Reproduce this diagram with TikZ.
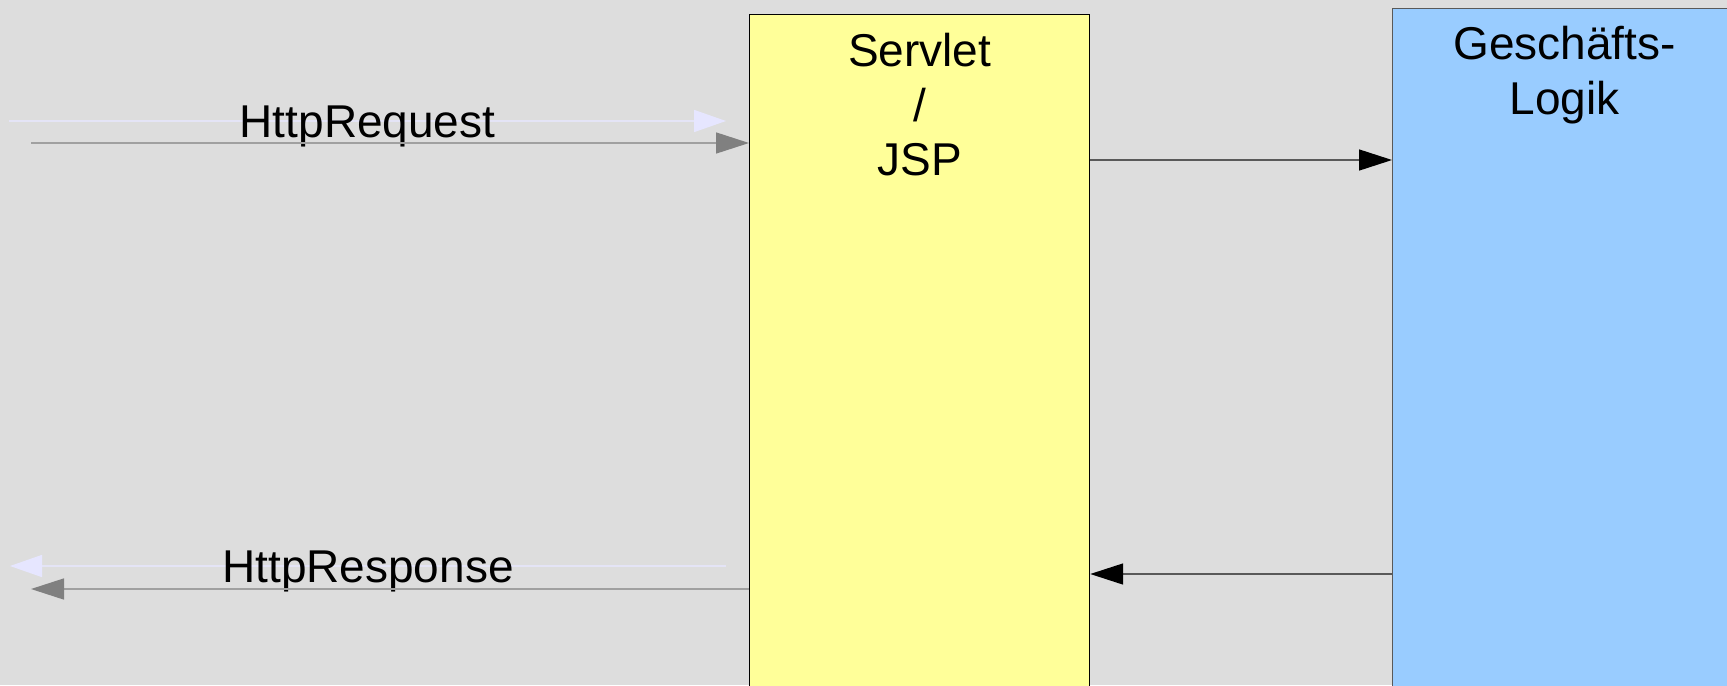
\documentclass[tikz,border=0pt]{standalone}
\usepackage{fontspec}
\setmainfont{Liberation Sans}
\usetikzlibrary{arrows.meta,positioning}
\definecolor{bggray}{HTML}{DDDDDD}
\definecolor{servletyellow}{HTML}{FFFF99}
\definecolor{logikblue}{HTML}{99CCFF}
\definecolor{ghostblue}{HTML}{E6E6FF}
\definecolor{ghostline}{HTML}{E4E4F6}
\definecolor{flowgray}{HTML}{808080}
\definecolor{flowline}{HTML}{A0A0A0}

\begin{document}
\begin{tikzpicture}[x=0.5pt,y=-0.5pt,
  box/.style={rectangle, line width=0.6pt, inner sep=0pt, anchor=north west,
    minimum height=345pt},
  boxtext/.style={font=\fontsize{23}{27.25}\selectfont, align=center,
    inner sep=0pt, anchor=north},
  msglabel/.style={font=\fontsize{23}{27.25}\selectfont, inner sep=0pt,
    anchor=base, yshift=-8pt},
  call/.style={draw=black!65, line width=0.75pt,
    -{Triangle[length=16.5pt,width=10.5pt,color=black]}},
  flow/.style={draw=flowline, line width=0.75pt,
    -{Triangle[length=16.5pt,width=10.5pt,color=flowgray]}},
  ghost/.style={draw=ghostline, line width=0.75pt,
    -{Triangle[length=16pt,width=11pt,color=ghostblue]}}]
\fill[bggray] (0,0) rectangle (1727,685);
\useasboundingbox (0,0) rectangle (1727,685);
\clip (0,0) rectangle (1727,685);

% boxes
\node[box, draw=black, fill=servletyellow, minimum width=170pt] (servlet) at (749,14) {};
\node[box, draw=black!65, fill=logikblue, minimum width=172pt] (logik) at (1392,8) {};
\node[boxtext, below=9.5pt of servlet.north] (servlettext) {Servlet\\/\\JSP};
\node[boxtext, below=9pt of logik.north] (logiktext) {Geschäfts-\\Logik};

% client side
\coordinate (reqghost) at (9,121);
\coordinate (reqghostend) at (726,121);
\coordinate (reqsrc) at (31,143);
\coordinate (respghost) at (726,566);
\coordinate (respghostend) at (10,566);
\coordinate (respsrc) at (31,589);
\draw[ghost] (reqghost) -- node[msglabel] (reqlabel) {HttpRequest} (reqghostend);
\draw[flow] (reqsrc) -- (reqsrc -| servlet.west);
\draw[ghost] (respghost) -- node[msglabel] (resplabel) {HttpResponse} (respghostend);
\draw[flow] (respsrc -| servlet.west) -- (respsrc);

% servlet <-> logic
\coordinate (fwd) at (0,160);
\coordinate (back) at (0,574);
\draw[call] (servlet.east |- fwd) -- (logik.west |- fwd);
\draw[call] (logik.west |- back) -- (servlet.east |- back);
\end{tikzpicture}
\end{document}
